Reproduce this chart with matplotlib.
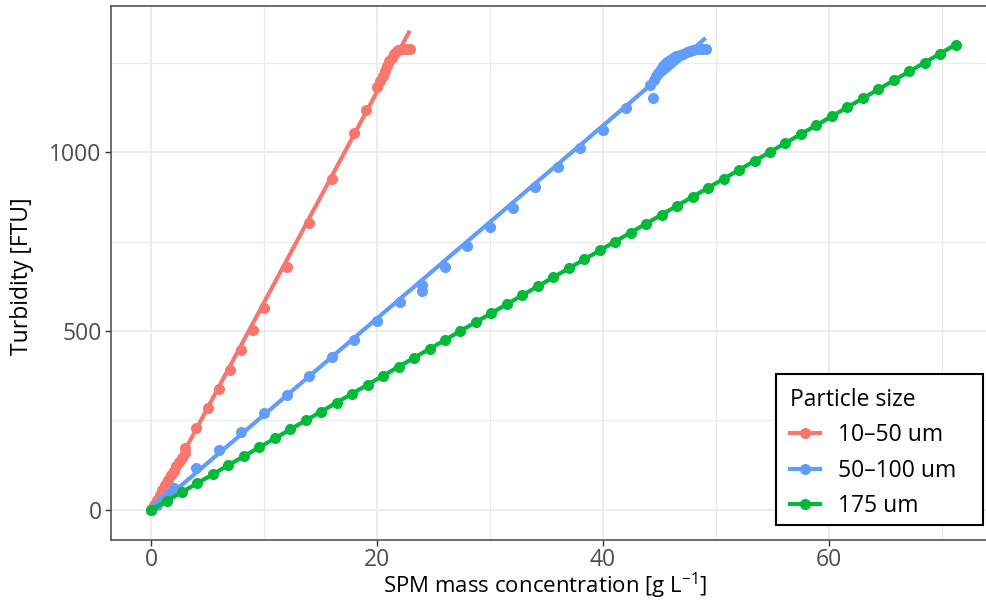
import numpy as np
import matplotlib
matplotlib.use("Agg")
import matplotlib.pyplot as plt
from matplotlib.lines import Line2D
from matplotlib.patches import Rectangle

plt.rcParams['font.family'] = ['Open Sans', 'DejaVu Sans']
plt.rcParams['mathtext.fontset'] = 'custom'
plt.rcParams['mathtext.rm'] = 'Open Sans'
plt.rcParams['mathtext.it'] = 'Open Sans'

# Turbidity vs. SPM mass concentration for three particle size classes
size_labels = ["10\u201350 um", "50\u2013100 um", "175 um"]
colors = ["#F8766D", "#619CFF", "#00BA38"]

conc_small = [0.0, 0.25, 0.5, 0.75, 1.0, 1.25, 1.5, 1.75, 2.0, 2.25, 2.5, 2.75,
              3.0, 3.0, 4.0, 5.0, 6.0, 7.0, 8.0, 9.0, 10.0, 12.0, 14.0, 16.0,
              18.0, 19.0, 20.0, 20.3, 20.5, 20.7, 20.9, 21.1, 21.3, 21.5, 21.7,
              21.9, 22.2, 22.6, 22.9]
turb_small = [0, 14, 28, 42, 56, 69, 83, 97, 110, 122, 134, 146,
              158, 174, 228, 284, 338, 392, 447, 504, 563, 678, 801, 924,
              1052, 1117, 1181, 1198, 1212, 1226, 1240, 1253, 1264, 1273, 1280,
              1285, 1287, 1288, 1288]

conc_medium = [0.0, 0.5, 1.0, 1.5, 2.0, 2.0, 4.0, 6.0, 8.0, 10.0, 12.0, 14.0,
               16.0, 18.0, 20.0, 22.0, 24.0, 24.0, 26.0, 28.0, 30.0, 32.0, 34.0,
               36.0, 38.0, 40.0, 42.0, 44.2, 44.4, 44.5, 44.7, 44.9, 45.1, 45.3,
               45.5, 45.7, 45.9, 46.2, 46.5, 46.8, 47.1, 47.4, 47.7, 48.0, 48.4,
               48.8, 49.1]
turb_medium = [0, 14, 28, 42, 56, 62, 116, 167, 218, 270, 321, 374,
               426, 474, 527, 581, 611, 629, 678, 737, 790, 843, 901,
               957, 1010, 1062, 1123, 1187, 1150, 1200, 1212, 1222, 1231, 1239,
               1246, 1252, 1257, 1262, 1267, 1271, 1275, 1279, 1282, 1285, 1287,
               1288, 1288]

conc_large = [0.0, 1.37, 2.74, 4.11, 5.48, 6.85, 8.22, 9.59, 10.96, 12.33,
              13.70, 15.07, 16.44, 17.80, 19.17, 20.54, 21.91, 23.28, 24.65,
              26.02, 27.39, 28.76, 30.13, 31.50, 32.87, 34.24, 35.61, 36.98,
              38.35, 39.72, 41.09, 42.46, 43.83, 45.20, 46.57, 47.94, 49.31,
              50.68, 52.05, 53.42, 54.78, 56.15, 57.52, 58.89, 60.26, 61.63,
              63.00, 64.37, 65.74, 67.11, 68.48, 69.85, 71.22]
turb_large = [0, 25, 50, 75, 100, 125, 150, 175, 200, 225,
              250, 275, 300, 325, 350, 375, 400, 425, 450,
              475, 500, 525, 550, 575, 600, 625, 650, 675,
              700, 725, 750, 775, 800, 825, 850, 875, 900,
              925, 950, 975, 1000, 1025, 1050, 1075, 1100, 1125,
              1150, 1175, 1200, 1225, 1250, 1275, 1300]

x_ticks = [0, 20, 40, 60]
y_ticks = [0, 500, 1000]

W, H = 986, 601
fig = plt.figure(figsize=(W / 100, H / 100), dpi=100)
left, right, top, bottom = 110.7, 998.0, 6.0, 540.0
ax = fig.add_axes([left / W, 1 - bottom / H, (right - left) / W, (bottom - top) / H])

MS, LW = 8.0, 3.0
series = [(conc_small, turb_small), (conc_medium, turb_medium), (conc_large, turb_large)]
for (xs, ys), col in zip(series, colors):
    xs = np.asarray(xs, float)
    ys = np.asarray(ys, float)
    slope, intercept = np.polyfit(xs, ys, 1)
    xf = np.array([xs.min(), xs.max()])
    ax.plot(xs, ys, 'o', color=col, markersize=MS, markeredgewidth=0, zorder=3)
    ax.plot(xf, slope * xf + intercept, '-', color=col, lw=LW,
            solid_capstyle='butt', zorder=3)

ax.set_xlim(-3.57, 74.97)
ax.set_ylim(-84, 1408)
ax.set_xticks(x_ticks)
ax.set_yticks(y_ticks)
ax.set_xticks([10, 30, 50, 70], minor=True)
ax.set_yticks([250, 750, 1250], minor=True)
ax.grid(which='major', color='#EBEBEB', lw=1.3, zorder=0)
ax.grid(which='minor', color='#EBEBEB', lw=0.9, zorder=0)
ax.set_axisbelow(True)

for sp in ax.spines.values():
    sp.set_color('#555555')
    sp.set_linewidth(1.2)

ax.tick_params(axis='both', which='major', length=4, width=1.0, color='#333333',
               labelcolor='#4D4D4D', labelsize=16.5, pad=2.5)
ax.tick_params(axis='x', which='major', pad=1.5)
ax.tick_params(axis='both', which='minor', length=0)

ax.set_xlabel("SPM mass concentration [g L$^{-1}$]", fontsize=16.0, color='black')
ax.set_ylabel("Turbidity [FTU]", fontsize=16.5, color='black')
ax.xaxis.set_label_coords((545 - left) / (right - left), -(586 - bottom) / (bottom - top))
ax.yaxis.set_label_coords((22 - left) / (right - left), 0.494)
ax.xaxis.label.set_va('center')
ax.yaxis.label.set_va('center')

# Legend box: white panel with a black border, entries placed inside it
box_l, box_t, box_r, box_b = 776, 374, 983, 525
fig.patches.append(Rectangle((box_l / W, 1 - box_b / H), (box_r - box_l) / W,
                             (box_b - box_t) / H, transform=fig.transFigure,
                             facecolor='white', edgecolor='black', lw=1.5,
                             zorder=4))

handles = [Line2D([0], [0], color=c, lw=LW, marker='o', markersize=MS,
                  markeredgewidth=0) for c in colors]
leg = fig.legend(handles, size_labels, title="Particle size",
                 loc='upper left', bbox_to_anchor=(box_l / W, 1 - box_t / H),
                 bbox_transform=fig.transFigure, borderaxespad=0,
                 fontsize=16.5, title_fontsize=16.5, frameon=False,
                 handlelength=1.3, handletextpad=0.8, labelspacing=0.5,
                 borderpad=0.6, alignment='left')
leg.set_zorder(5)

fig.savefig("out.png", dpi=100)
